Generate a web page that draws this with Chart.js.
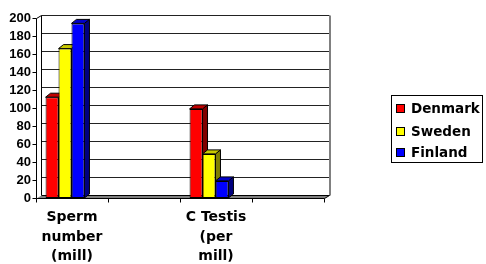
<!DOCTYPE html>
<html>
<head>
<meta charset="utf-8">
<script src="https://cdn.jsdelivr.net/npm/chart.js@4"></script>
<style>
  body { margin: 0; background: #fff; }
  #wrap { width: 486px; height: 264px; position: relative; }
</style>
</head>
<body>
<div id="wrap"><canvas id="myChart"></canvas></div>
<script>
// data
const categories = [['Sperm', 'number', '(mill)'], '', ['C Testis', '(per', 'mill)'], ''];
const countries = ['Denmark', 'Sweden', 'Finland'];
const denmark = [112, null, 99, null];
const sweden = [166, null, 49, null];
const finland = [194, null, 19, null];
const yMin = 0, yMax = 200, yStep = 20;

const frontColors = ['#ff0000', '#ffff00', '#0000ff'];
const topColors = ['#c00000', '#c8c800', '#0000c8'];
const sideColors = ['#800000', '#808000', '#000080'];

// 3d look: wall depth, bar depth, bar shift
const DX = 5, DY = -3;
const BX = 5, BY = -4;
const SHIFT = -7;

function line(ctx, x1, y1, x2, y2) {
    ctx.beginPath();
    ctx.moveTo(x1, y1);
    ctx.lineTo(x2, y2);
    ctx.stroke();
}

const threeD = {
    id: 'threeD',
    beforeDatasetsDraw(chart) {
        const ctx = chart.ctx;
        const a = chart.chartArea;
        const y = chart.scales.y;
        const L = Math.round(a.left) + 0.5, R = Math.round(a.right) + 0.5;
        const T = Math.round(a.top) + 0.5, B = Math.round(a.bottom) + 0.5;

        ctx.save();
        ctx.lineWidth = 1;
        // back wall grid
        ctx.strokeStyle = '#222';
        for (let v = yMin + yStep; v <= yMax; v += yStep) {
            const py = Math.round(y.getPixelForValue(v) + DY) + 0.5;
            line(ctx, L + DX, py, R + DX, py);
        }
        // left side wall edges
        ctx.strokeStyle = '#000';
        line(ctx, L + DX, T + DY, L + DX, B + DY);
        line(ctx, L, T, L + DX, T + DY);
        // right wall edge
        ctx.strokeStyle = '#808080';
        ctx.lineWidth = 2;
        line(ctx, R + DX + 0.5, T + DY, R + DX + 0.5, B + DY);
        // floor
        ctx.lineWidth = 1;
        ctx.fillStyle = '#808080';
        ctx.beginPath();
        ctx.moveTo(L, B);
        ctx.lineTo(R, B);
        ctx.lineTo(R + DX, B + DY);
        ctx.lineTo(L + DX, B + DY);
        ctx.closePath();
        ctx.fill();
        ctx.strokeStyle = '#000';
        line(ctx, L + DX, B + DY, R + DX, B + DY);
        ctx.restore();

        // side and top faces of the bars, left to right
        ctx.save();
        ctx.translate(SHIFT, 0);
        chart.data.datasets.forEach((ds, i) => {
            const meta = chart.getDatasetMeta(i);
            meta.data.forEach((bar, j) => {
                if (ds.data[j] == null) return;
                const p = bar.getProps(['x', 'y', 'width', 'base'], true);
                const l = p.x - p.width / 2, r = p.x + p.width / 2;
                ctx.strokeStyle = '#000';
                ctx.lineWidth = 1;
                ctx.fillStyle = sideColors[i];
                ctx.beginPath();
                ctx.moveTo(r, p.y);
                ctx.lineTo(r + BX, p.y + BY);
                ctx.lineTo(r + BX, p.base + BY);
                ctx.lineTo(r, p.base);
                ctx.closePath();
                ctx.fill();
                ctx.stroke();
                ctx.fillStyle = topColors[i];
                ctx.beginPath();
                ctx.moveTo(l, p.y);
                ctx.lineTo(l + BX, p.y + BY);
                ctx.lineTo(r + BX, p.y + BY);
                ctx.lineTo(r, p.y);
                ctx.closePath();
                ctx.fill();
                ctx.stroke();
            });
        });
    },
    afterDatasetsDraw(chart) {
        const ctx = chart.ctx;
        ctx.restore();
        const a = chart.chartArea;
        const x = chart.scales.x;
        const y = chart.scales.y;
        const L = Math.round(a.left) + 0.5, R = Math.round(a.right) + 0.5;
        const B = Math.round(a.bottom) + 0.5;

        ctx.save();
        ctx.strokeStyle = '#000';
        ctx.lineWidth = 1;
        // front axes
        line(ctx, L, Math.round(a.top) + 0.5, L, B);
        line(ctx, L, B, R, B);
        line(ctx, R, B, R + DX, B + DY);
        for (let v = yMin; v <= yMax; v += yStep) {
            const py = Math.round(y.getPixelForValue(v)) + 0.5;
            line(ctx, L - 4, py, L, py);
        }
        const cw = (a.right - a.left) / categories.length;
        for (let i = 0; i <= categories.length; i++) {
            const px = Math.round(x.getPixelForValue(0) - cw / 2 + i * cw) + 0.5;
            line(ctx, px, B, px, B + 4);
        }

        // legend
        ctx.fillStyle = '#fff';
        ctx.fillRect(391, 95, 91, 67);
        ctx.strokeRect(391.5, 95.5, 91, 67);
        const rows = [109, 132, 153];
        ctx.font = 'bold 13.5px "DejaVu Sans"';
        ctx.textBaseline = 'middle';
        chart.data.datasets.forEach((ds, i) => {
            ctx.fillStyle = ds.backgroundColor;
            ctx.fillRect(396.5, rows[i] - 4.5, 8, 8);
            ctx.strokeRect(396.5, rows[i] - 4.5, 8, 8);
            ctx.fillStyle = '#000';
            ctx.fillText(ds.label, 411, rows[i] + 0.5);
        });
        ctx.restore();
    }
};

const datasets = [denmark, sweden, finland].map((d, i) => ({
    label: countries[i],
    data: d,
    backgroundColor: frontColors[i],
    borderColor: '#000',
    borderWidth: 1,
    borderSkipped: false,
    clip: false
}));

const myChart = new Chart(document.getElementById('myChart').getContext('2d'), {
    type: 'bar',
    data: { labels: categories, datasets: datasets },
    options: {
        responsive: true,
        maintainAspectRatio: false,
        animation: false,
        categoryPercentage: 0.54,
        barPercentage: 1,
        layout: { padding: { top: 18, right: 162, bottom: 0, left: 0 } },
        plugins: {
            legend: { display: false },
            tooltip: { enabled: false }
        },
        scales: {
            x: {
                afterFit(scale) { scale.height = 66; },
                grid: { display: false, drawTicks: false },
                border: { display: false },
                ticks: {
                    color: '#000',
                    font: { family: 'DejaVu Sans', weight: 'bold', size: 14, lineHeight: 1.39 },
                    padding: 10,
                    maxRotation: 0,
                    autoSkip: false
                }
            },
            y: {
                min: yMin,
                max: yMax,
                afterFit(scale) { scale.width = 36; },
                grid: { display: false, drawTicks: false },
                border: { display: false },
                ticks: {
                    stepSize: yStep,
                    autoSkip: false,
                    color: '#000',
                    font: { family: 'Liberation Sans', weight: 'bold', size: 13 },
                    padding: 5
                }
            }
        }
    },
    plugins: [threeD]
});
</script>
</body>
</html>
